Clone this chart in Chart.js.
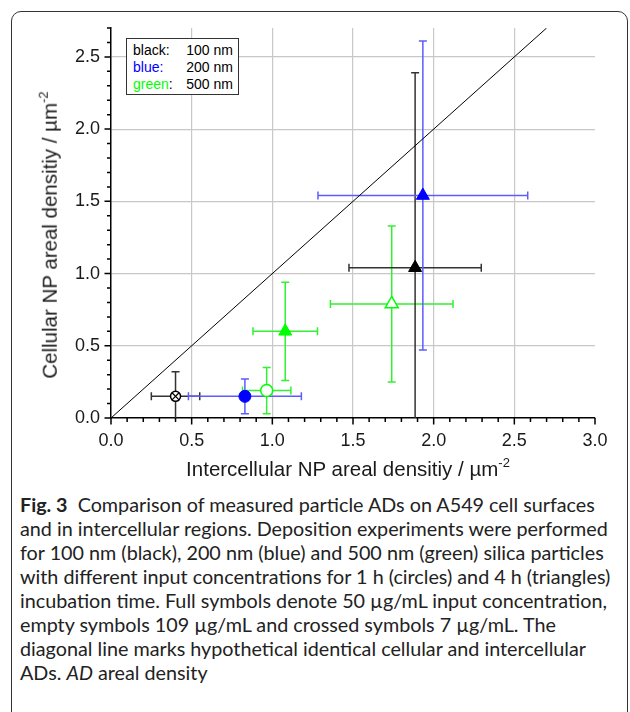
<!DOCTYPE html>
<html>
<head>
<meta charset="utf-8">
<script src="https://cdn.jsdelivr.net/npm/chart.js@4/dist/chart.umd.min.js"></script>
<style>
  html, body { margin: 0; padding: 0; background: #fff; }
  body { width: 630px; height: 712px; position: relative; overflow: hidden; }
  #frame { position: absolute; left: 11px; top: 11px; width: 617px; height: 760px;
           border: 1px solid #333; border-radius: 10px; box-sizing: border-box; }
  #wrap { position: absolute; left: 0; top: 0; width: 630px; height: 470px; }
  .axtitle { position: absolute; font-family: 'Liberation Sans', Arial, sans-serif; font-size: 20.5px;
             color: #1a1a1a; white-space: nowrap; line-height: 1; }
  .axtitle sup { font-size: 13px; vertical-align: 0; position: relative; top: -9px; }
  #ytitle { left: 50px; top: 235px; transform: translate(-50%, -50%) rotate(-90deg); }
  #xtitle { left: 348px; top: 469px; transform: translate(-50%, -50%); }
  #legend { position: absolute; left: 126px; top: 38px; width: 113px; height: 57px;
            border: 1px solid #333; background: #fff; box-sizing: border-box;
            font-family: 'Liberation Sans', Arial, sans-serif; font-size: 14px; line-height: 17px;
            padding: 3px 5px 0 6px; }
  #legend .row { display: flex; justify-content: space-between; }
  #caption { position: absolute; left: 20px; top: 493px; font-family: Lato, 'Noto Sans', sans-serif;
             color: #222; line-height: 24px; white-space: nowrap; font-size: 18px; }
  #caption b { font-weight: bold; }
</style>
</head>
<body>
<div id="frame"></div>
<div id="wrap"><canvas id="c" width="630" height="470"></canvas></div>
<div id="legend">
  <div class="row"><span style="color:#000">black:</span><span>100 nm</span></div>
  <div class="row"><span style="color:#0000ff">blue:</span><span>200 nm</span></div>
  <div class="row"><span><span style="color:#00ff00">green</span>:</span><span>500 nm</span></div>
</div>
<div class="axtitle" id="ytitle">Cellular NP areal densitiy / µm<sup>-2</sup></div>
<div class="axtitle" id="xtitle">Intercellular NP areal densitiy / µm<sup>-2</sup></div>
<div id="caption">
<span class="ln" id="ln0"><b>Fig. 3</b>&nbsp; Comparison of measured particle ADs on A549 cell surfaces</span><br>
<span class="ln" id="ln1">and in intercellular regions. Deposition experiments were performed</span><br>
<span class="ln">for 100 nm (black), 200 nm (blue) and 500 nm (green) silica particles</span><br>
<span class="ln">with different input concentrations for 1 h (circles) and 4 h (triangles)</span><br>
<span class="ln">incubation time. Full symbols denote 50 µg/mL input concentration,</span><br>
<span class="ln">empty symbols 109 µg/mL and crossed symbols 7 µg/mL. The</span><br>
<span class="ln">diagonal line marks hypothetical identical cellular and intercellular</span><br>
<span class="ln">ADs. <i>AD</i> areal density</span>
</div>
<script>
// ---- data ----
const pointNames = ['100 nm, 7 µg/mL, 1 h', '200 nm, 50 µg/mL, 1 h', '500 nm, 109 µg/mL, 1 h',
                    '500 nm, 50 µg/mL, 4 h', '500 nm, 109 µg/mL, 4 h', '100 nm, 50 µg/mL, 4 h',
                    '200 nm, 50 µg/mL, 4 h'];
const xMean = [0.40, 0.83, 0.965, 1.08, 1.74, 1.885, 1.933];
const yMean = [0.15, 0.15, 0.19, 0.60, 0.79, 1.04, 1.54];
const xErr  = [0.15, 0.35, 0.15, 0.20, 0.38, 0.41, 0.65];
const yErr  = [0.17, 0.12, 0.16, 0.34, 0.54, 1.35, 1.07];
const diagX = [0, 2.7];
const diagY = [0, 2.7];
const xTickLabels = ['0.0', '0.5', '1.0', '1.5', '2.0', '2.5', '3.0'];
const yTickLabels = ['0.0', '0.5', '1.0', '1.5', '2.0', '2.5'];

// ---- styles ----
const markerColor = ['#000000', '#0000ff', '#00ff00', '#00ff00', '#00ff00', '#000000', '#0000ff'];
const barColor    = ['#333333', '#5c5cff', '#33f033', '#33f033', '#33f033', '#333333', '#5c5cff'];
const markerShape = ['circle', 'circle', 'circle', 'triangle', 'triangle', 'triangle', 'triangle'];
const markerFill  = ['crossed', 'full', 'empty', 'full', 'empty', 'full', 'full'];

const datasets = [];
datasets.push({
  type: 'line', label: 'identity', data: diagX.map((v, i) => ({ x: v, y: diagY[i] })),
  borderColor: '#000', borderWidth: 1, pointRadius: 0, fill: false, order: 20
});
xMean.forEach((xv, i) => {
  const tri = markerShape[i] === 'triangle';
  const filled = markerFill[i] === 'full';
  datasets.push({
    type: 'scatter', label: pointNames[i], data: [{ x: xv, y: yMean[i] }],
    pointStyle: markerShape[i], pointRadius: tri ? 7.5 : (markerFill[i] === 'crossed' ? 5 : 6),
    pointBackgroundColor: filled ? markerColor[i] : '#ffffff',
    pointBorderColor: markerColor[i], pointBorderWidth: filled ? 1 : 1.5, order: 5
  });
  if (markerFill[i] === 'crossed') {
    datasets.push({
      type: 'scatter', label: pointNames[i] + ' x', data: [{ x: xv, y: yMean[i] }],
      pointStyle: 'crossRot', pointRadius: 5, pointBorderColor: markerColor[i],
      pointBorderWidth: 1.2, order: 1
    });
  }
});

const errorBars = {
  id: 'errorBars',
  beforeDatasetsDraw(chart) {
    const { ctx, chartArea: a, scales: { x, y } } = chart;
    ctx.save();
    ctx.beginPath(); ctx.rect(a.left, a.top, a.right - a.left, a.bottom - a.top); ctx.clip();
    const cap = 4;
    xMean.forEach((xv, i) => {
      ctx.strokeStyle = barColor[i]; ctx.lineWidth = 1.5;
      const px = x.getPixelForValue(xv), py = y.getPixelForValue(yMean[i]);
      const x0 = x.getPixelForValue(xv - xErr[i]), x1 = x.getPixelForValue(xv + xErr[i]);
      const y0 = y.getPixelForValue(yMean[i] - yErr[i]), y1 = y.getPixelForValue(yMean[i] + yErr[i]);
      ctx.beginPath();
      ctx.moveTo(x0, py); ctx.lineTo(x1, py);
      ctx.moveTo(x0, py - cap); ctx.lineTo(x0, py + cap);
      ctx.moveTo(x1, py - cap); ctx.lineTo(x1, py + cap);
      ctx.moveTo(px, y0); ctx.lineTo(px, y1);
      ctx.moveTo(px - cap, y0); ctx.lineTo(px + cap, y0);
      ctx.moveTo(px - cap, y1); ctx.lineTo(px + cap, y1);
      ctx.stroke();
    });
    ctx.restore();
  }
};

const tickMarks = {
  id: 'tickMarks',
  afterDraw(chart) {
    const { ctx, scales: { x, y } } = chart;
    ctx.save();
    ctx.strokeStyle = '#000'; ctx.lineWidth = 1.5;
    ctx.beginPath();
    for (let i = 0; i <= 30; i++) {
      const px = x.getPixelForValue(i / 10), len = i % 5 === 0 ? 6.5 : 4;
      ctx.moveTo(px, x.top); ctx.lineTo(px, x.top + len);
    }
    for (let i = 0; i <= 27; i++) {
      const py = y.getPixelForValue(i / 10), len = i % 5 === 0 ? 6.5 : 4;
      ctx.moveTo(y.right, py); ctx.lineTo(y.right - len, py);
    }
    ctx.stroke();
    ctx.restore();
  }
};

const tickFont = { family: "'Liberation Sans', Arial, sans-serif", size: 18 };

new Chart(document.getElementById('c'), {
  data: { datasets },
  options: {
    responsive: false, animation: false, devicePixelRatio: 1,
    layout: { padding: { top: 28, right: 35, bottom: 12, left: 0 } },
    plugins: { legend: { display: false }, tooltip: { enabled: false } },
    scales: {
      x: {
        type: 'linear', min: 0, max: 3,
        ticks: { stepSize: 0.5, font: tickFont, color: '#1a1a1a', padding: 12, maxRotation: 0,
                 callback: (v) => xTickLabels[Math.round(v * 2)] ?? '' },
        grid: { drawTicks: false, lineWidth: 1.2,
                color: (c) => (c.tick && (c.tick.value === 0 || c.tick.value === 3)) ? 'rgba(0,0,0,0)' : '#c8c8c8' },
        border: { color: '#000', width: 1.5 },
        afterFit: (s) => { s.height = 40; }
      },
      y: {
        type: 'linear', min: 0, max: 2.7,
        ticks: { stepSize: 0.5, includeBounds: false, font: tickFont, color: '#1a1a1a', padding: 11,
                 callback: (v) => yTickLabels[Math.round(v * 2)] ?? '' },
        grid: { drawTicks: false, lineWidth: 1.2,
                color: (c) => (c.tick && c.tick.value === 0) ? 'rgba(0,0,0,0)' : '#c8c8c8' },
        border: { color: '#000', width: 1.5 },
        afterFit: (s) => { s.width = 111; }
      }
    }
  },
  plugins: [errorBars, tickMarks]
});

// fit caption width to the reference line width
(function () {
  const ln = document.getElementById('ln1');
  const w = ln.getBoundingClientRect().width;
  const target = 588;
  const cap = document.getElementById('caption');
  cap.style.fontSize = (18 * target / w).toFixed(2) + 'px';
})();
</script>
</body>
</html>
